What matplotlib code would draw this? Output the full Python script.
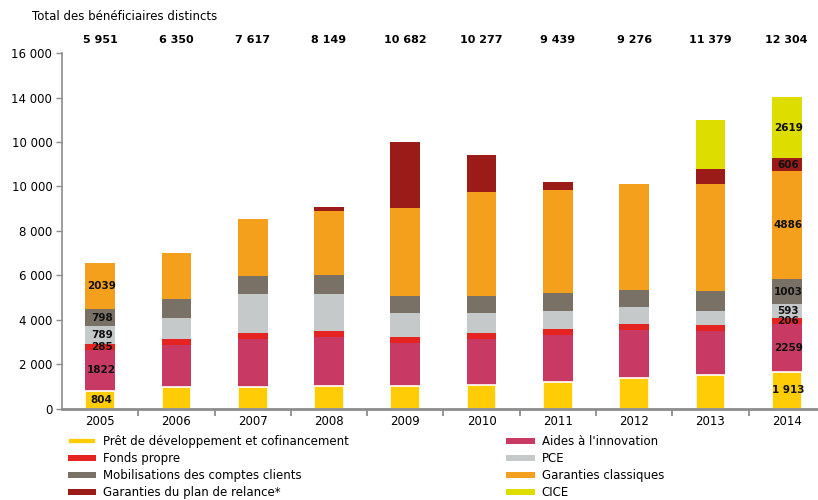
import matplotlib
matplotlib.use("Agg")
import matplotlib.pyplot as plt
import numpy as np

plt.rcParams["font.family"] = ["DejaVu Sans"]

# Donnees (nombre de beneficiaires par dispositif)
annees = ["2005", "2006", "2007", "2008", "2009", "2010", "2011", "2012", "2013", "2014"]
totaux = ["5 951", "6 350", "7 617", "8 149", "10 682", "10 277", "9 439", "9 276", "11 379", "12 304"]

pret      = [804, 950, 950, 1030, 1030, 1070, 1190, 1370, 1510, 1660]
aides     = [1822, 1910, 2180, 2190, 1920, 2060, 2120, 2170, 1980, 2150]
fonds     = [285, 270, 270, 270, 270, 270, 270, 270, 270, 270]
pce       = [789, 950, 1760, 1670, 1080, 900, 810, 760, 630, 630]
mobil     = [798, 850, 810, 850, 770, 770, 810, 770, 900, 1120]
garanties = [2039, 2070, 2570, 2890, 3950, 4680, 4640, 4770, 4820, 4870]
relance   = [0, 0, 0, 180, 2980, 1670, 360, 0, 680, 580]
cice      = [0, 0, 0, 0, 0, 0, 0, 0, 2200, 2740]

series = [
    ("Prêt de développement et cofinancement", pret, "#FFCC05"),
    ("Aides à l'innovation", aides, "#C83A63"),
    ("Fonds propre", fonds, "#E52421"),
    ("PCE", pce, "#C6C9C9"),
    ("Mobilisations des comptes clients", mobil, "#7A7166"),
    ("Garanties classiques", garanties, "#F4A01C"),
    ("Garanties du plan de relance*", relance, "#9A1B17"),
    ("CICE", cice, "#DEDD00"),
]

# etiquettes affichees dans les barres 2005 et 2014
labels_2005 = ["804", "1822", "285", "789", "798", "2039", "", ""]
labels_2014 = ["1 913", "2259", "206", "593", "1003", "4886", "606", "2619"]

y_ticks = [0, 2000, 4000, 6000, 8000, 10000, 12000, 14000, 16000]
y_labels = ["0", "2 000", "4 000", "6 000", "8 000", "10 000", "10 000", "14 000", "16 000"]

fig = plt.figure(figsize=(8.18, 5.0), dpi=100)
ax = fig.add_axes([62 / 818, 1 - 408.5 / 500, 756 / 818, 355.2 / 500])

x = np.arange(len(annees))
width = 0.39
bottom = np.zeros(len(annees))
handles = {}
for i, (name, vals, col) in enumerate(series):
    vals = np.array(vals, dtype=float)
    if i == 0:
        b = ax.bar(x, vals, width, bottom=bottom, color=col, edgecolor="white",
                   linewidth=1.2, zorder=3)
    else:
        b = ax.bar(x, vals, width, bottom=bottom, color=col, linewidth=0, zorder=2)
    handles[name] = b
    # etiquettes des segments
    for j, labs in ((0, labels_2005), (len(annees) - 1, labels_2014)):
        if labs[i]:
            ax.text(x[j] + 0.02, bottom[j] + vals[j] / 2, labs[i], ha="center", va="center",
                    fontsize=7.5, fontweight="bold", color="#111111", zorder=4)
    bottom += vals

for j, t in enumerate(totaux):
    ax.text(x[j], 16600, t, ha="center", va="center", fontsize=8,
            fontweight="bold", clip_on=False)

fig.text(32 / 818, 1 - 17 / 500, "Total des bénéficiaires distincts", fontsize=8.5,
         va="center", ha="left")

ax.set_xlim(-0.5, 9.41)
ax.set_ylim(0, 16000)
ax.set_yticks(y_ticks)
ax.set_yticklabels(y_labels, fontsize=8.5)
ax.set_xticks(x)
ax.set_xticklabels(annees, fontsize=8.5)
ax.set_xticks(x[:-1] + 0.5, minor=True)
ax.tick_params(axis="x", which="major", length=0, pad=5)
ax.tick_params(axis="x", which="minor", length=5, width=1.3, color="#8c8c8c")
ax.tick_params(axis="y", length=4, width=1, color="#8c8c8c", pad=3)

for s in ["top", "right"]:
    ax.spines[s].set_visible(False)
ax.spines["left"].set_color("#8c8c8c")
ax.spines["left"].set_linewidth(1.2)
ax.spines["bottom"].set_color("#8c8c8c")
ax.spines["bottom"].set_linewidth(2)
ax.spines["bottom"].set_zorder(5)
ax.spines["left"].set_zorder(5)

order = ["Prêt de développement et cofinancement", "Fonds propre",
         "Mobilisations des comptes clients", "Garanties du plan de relance*",
         "Aides à l'innovation", "PCE", "Garanties classiques", "CICE"]
leg = fig.legend([handles[n] for n in order], order, ncol=2, loc="upper left",
                 bbox_to_anchor=(68 / 818, 1 - 435 / 500), frameon=False,
                 fontsize=8.5, handlelength=2.4, handleheight=0.35,
                 handletextpad=0.6, labelspacing=0.35, columnspacing=13.3,
                 borderpad=0, borderaxespad=0)

fig.savefig("out.png", dpi=100)
